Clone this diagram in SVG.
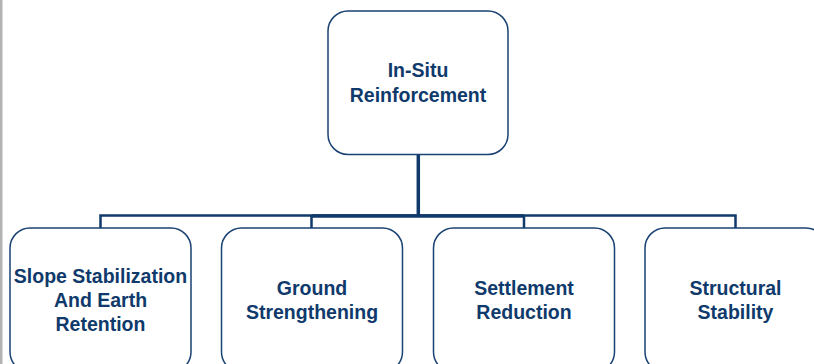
<svg xmlns="http://www.w3.org/2000/svg" width="814" height="364" viewBox="0 0 814 364">
<style>
.box{fill:#ffffff;stroke:#1a4272;stroke-width:1.5}
.lbl{font-family:"Liberation Sans",Arial,sans-serif;font-weight:bold;font-size:19.5px;fill:#0f3a6b;text-anchor:middle}
.con{stroke:#0f3a6b;fill:none}
</style>
<rect x="0" y="0" width="814" height="364" fill="#ffffff"/>
<rect x="0" y="0" width="2.5" height="364" fill="#b3b3b3"/>
<g id="connectors">
<line class="con" x1="418.3" y1="154.5" x2="418.3" y2="216" stroke-width="3.5"/>
<line class="con" x1="311.5" y1="216" x2="524" y2="216" stroke-width="3.5"/>
<polyline class="con" points="100.5,228 100.5,215.5 735.5,215.5 735.5,228" stroke-width="2.5"/>
<line class="con" x1="311.5" y1="215.5" x2="311.5" y2="228" stroke-width="2.5"/>
<line class="con" x1="524" y1="215.5" x2="524" y2="228" stroke-width="2.5"/>
</g>
<g id="n-insitu">
<rect class="box" x="328" y="11" width="180" height="143.5" rx="20"/>
<text class="lbl" x="418" y="77">In-Situ</text>
<text class="lbl" x="418" y="101.5">Reinforcement</text>
</g>
<g id="n-slope">
<rect class="box" x="10" y="228" width="181" height="144" rx="20"/>
<text class="lbl" x="100.5" y="283">Slope Stabilization</text>
<text class="lbl" x="100.5" y="307">And Earth</text>
<text class="lbl" x="100.5" y="331">Retention</text>
</g>
<g id="n-ground">
<rect class="box" x="221.5" y="228" width="181" height="144" rx="20"/>
<text class="lbl" x="312" y="295">Ground</text>
<text class="lbl" x="312" y="319">Strengthening</text>
</g>
<g id="n-settlement">
<rect class="box" x="433.5" y="228" width="181" height="144" rx="20"/>
<text class="lbl" x="524" y="295">Settlement</text>
<text class="lbl" x="524" y="319">Reduction</text>
</g>
<g id="n-structural">
<rect class="box" x="645" y="228" width="181" height="144" rx="20"/>
<text class="lbl" x="735.5" y="295">Structural</text>
<text class="lbl" x="735.5" y="319">Stability</text>
</g>
</svg>
